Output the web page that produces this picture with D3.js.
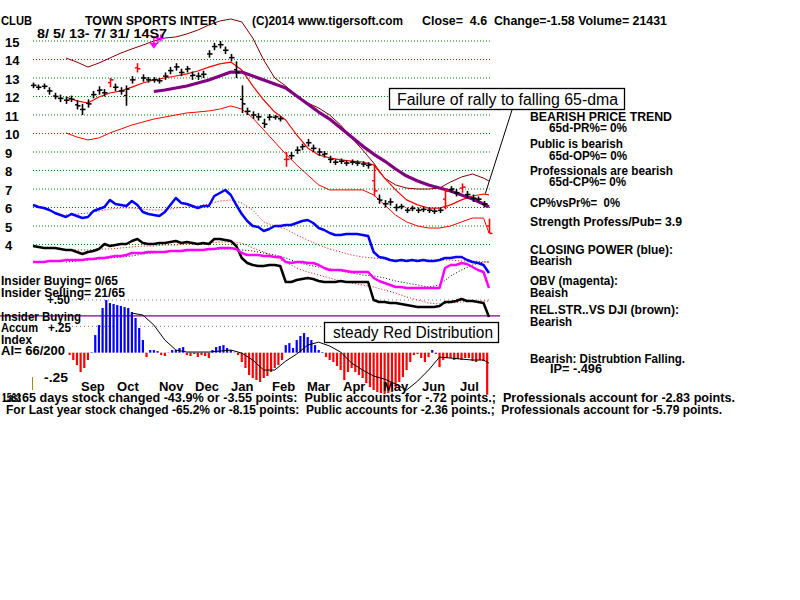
<!DOCTYPE html>
<html><head><meta charset="utf-8">
<script src="https://cdn.jsdelivr.net/npm/d3@7"></script>
<style>
body{margin:0;background:#fff;}
svg{display:block;background:#fff;}
text{font-family:"Liberation Sans",Arial,sans-serif;white-space:pre;}
</style>
</head><body>
<svg id="c" width="800" height="600"></svg>
<script>
// ---------------- DATA ----------------
const priceTicks = [4,5,6,7,8,9,10,11,12,13,14,15];
const monthLabels = ["Sep","Oct","Nov","Dec","Jan","Feb","Mar","Apr","May","Jun","Jul"];
const monthDays = [26.2,45.9,68.8,88.5,108.1,130.5,149.6,169.3,191.1,212.4,233.2];

// price bars every 3 trading days (day = 3*i)
const priceClose = [12.6,12.5,12.55,12.3,12.0,11.9,11.8,11.85,11.5,11.3,
 11.6,12.1,12.35,12.2,12.9,12.5,12.3,12.4,12.9,13.5,
 13.0,12.9,12.9,12.85,13.1,13.4,13.6,13.3,13.5,13.15,
 13.1,13.2,14.3,14.7,14.8,14.5,14.1,13.3,11.6,11.2,
 11.0,10.9,10.5,10.9,10.9,10.8,8.6,8.8,9.1,9.3,
 9.5,9.2,9.0,8.9,8.6,8.45,8.5,8.4,8.45,8.4,
 8.35,8.3,6.9,6.4,6.2,6.3,6.0,6.05,5.85,5.95,
 5.85,5.9,5.85,5.8,5.85,6.9,7.0,6.8,7.1,6.7,
 6.5,6.45,6.2,4.6];
const priceHigh = [12.75,12.65,12.7,12.5,12.2,12.1,12.0,12.05,11.8,11.6,
 11.85,12.3,12.55,12.4,13.0,12.7,12.5,12.6,13.1,13.8,
 13.2,13.05,13.05,13.0,13.3,13.6,13.8,13.5,13.65,13.35,
 13.3,13.4,14.5,14.9,15.0,14.7,14.3,13.9,12.6,11.4,
 11.2,11.1,10.8,11.05,11.0,10.95,9.0,9.0,9.3,9.45,
 9.7,9.4,9.2,9.05,8.8,8.6,8.65,8.55,8.6,8.55,
 8.5,8.45,8.3,6.7,6.4,6.5,6.2,6.2,6.0,6.1,
 6.0,6.05,6.0,5.95,6.0,7.0,7.15,7.0,7.3,6.9,
 6.7,6.6,6.35,5.4];
const priceLow = [12.45,12.35,12.4,12.1,11.85,11.7,11.6,11.7,11.3,11.0,
 11.4,11.9,12.1,12.0,12.5,12.3,12.1,11.5,12.7,13.3,
 12.8,12.75,12.75,12.7,12.9,13.2,13.4,13.1,13.3,12.9,
 12.9,13.0,14.1,14.5,14.6,14.3,13.9,13.0,11.1,11.0,
 10.8,10.7,10.3,10.7,10.75,10.65,8.2,8.6,8.9,9.1,
 9.3,9.0,8.8,8.7,8.4,8.3,8.35,8.25,8.3,8.25,
 8.2,8.1,6.6,6.2,6.0,6.1,5.8,5.9,5.7,5.8,
 5.7,5.75,5.7,5.65,5.7,5.9,6.8,6.6,6.8,6.5,
 6.3,6.3,6.0,4.6];
const redBars = [14,19,46,62,75,78,83];

// smoothed lines every 6 trading days, last point at day 249
const ma21 = [null,null,null,11.97,11.76,11.65,11.97,12.19,12.30,12.51,
 12.73,12.89,13.0,13.11,13.22,13.38,13.59,13.76,13.86,13.43,
 12.57,11.81,11.16,10.73,9.92,9.22,8.84,8.68,8.57,8.51,
 8.46,8.30,7.59,6.95,6.41,6.14,5.97,5.97,6.14,6.41,
 6.62,6.73,6.68];
const bandUpper = [null,null,null,14.08,13.86,13.59,13.81,14.08,14.35,14.57,
 14.78,15.0,15.16,15.22,15.38,15.59,15.86,16.08,16.19,16.03,
 15.16,13.97,13.0,12.57,12.03,11.65,11.38,11.0,10.46,9.76,
 9.11,8.41,7.59,7.22,7.05,7.0,7.0,7.05,7.38,7.65,
 7.81,7.59,7.43];
const bandLower = [null,null,null,10.03,9.81,9.65,9.76,10.03,10.24,10.46,
 10.62,10.78,10.89,11.0,11.11,11.16,11.22,11.32,11.49,11.32,
 10.84,10.19,9.54,8.89,8.30,7.76,7.22,6.95,6.95,6.95,
 6.95,6.68,6.14,5.59,5.22,5.0,4.89,4.89,5.0,5.22,
 5.43,5.43,4.62];
const ma65 = [null,null,null,null,null,null,null,null,null,null,
 null,12.27,12.35,12.46,12.57,12.73,12.89,13.11,13.32,13.32,
 13.11,12.89,12.68,12.46,12.03,11.59,11.16,10.78,10.30,9.81,
 9.32,8.89,8.51,8.08,7.70,7.43,7.22,7.05,6.89,6.68,
 6.46,6.19,6.03];

// indicators (every 3 trading days), arbitrary units
const closingPower = [115,113,112,110,107,105,103,106,104,102,
 103,109,111,113,120,116,115,114,119,115,
 108,106,105,104,108,115,122,117,116,114,
 112,114,114,124,127,130,125,115,106,99,
 94,93,89,91,94,94,95,95,97,99,
 100,97,92,90,87,85,85,86,86,86,
 85,84,68,63,62,60,59,60,59,60,
 59,60,59,59,60,62,62,63,63,60,
 58,57,55,47];
const obv = [58,58,58,59,59,59,60,60,60,60,
 61,61,62,62,63,64,64,65,67,67,
 67,68,68,68,68,69,69,69,70,70,
 70,70,71,71,72,72,72,71,67,65,
 65,65,64,64,63,63,58,57,58,58,
 57,57,55,52,50,50,50,49,48,48,
 48,48,42,39,37,35,33,33,32,32,
 32,32,32,32,32,52,55,55,57,56,
 53,50,48,32];
const relStrength = [74,73,72,72,72,71,70,70,68,66,
 68,69,71,76,74,75,76,76,79,81,
 77,76,76,77,77,78,79,77,78,77,
 76,77,76,81,81,80,79,74,62,57,
 55,54,54,55,55,54,38,38,40,41,
 42,41,39,38,38,38,39,38,38,38,
 38,38,20,18,18,17,17,16,15,14,
 13,13,13,13,14,18,18,19,21,19,
 19,18,17,3];
// moving averages (every 6 trading days)
const cpMa = [null,null,null,105,106,107,109,111,112,112,
 111,110,110,112,113,114,116,119,120,117,
 110,98,94,91,85,80,75,71,68,65,
 63,62,61,60,60,60,60,60,60,59,
 59,58,58];
const obvMa = [null,null,null,58,59,60,61,62,63,64,
 66,67,68,69,69,70,70,71,71,70,
 69,67,65,62,58,55,53,51,49,47,
 45,44,42,39,37,35,33,35,44,50,
 55,58,58];
const rsMa = [null,null,null,70,70,70,71,71,72,73,
 74,74,75,75,76,76,77,78,78,77,
 72,68,63,58,52,48,45,42,39,37,
 35,33,30,27,23,20,17,16,17,18,
 19,19,19];

// Accumulation index, every 2 trading days from day 20
const accumIndex = [-0.023,-0.07,-0.118,-0.184,-0.146,-0.07,0.005,0.167,0.262,0.424,
 0.5,0.471,0.462,0.452,0.443,0.433,0.424,0.386,0.329,0.234,
 0.12,-0.042,0.025,0.025,0.015,-0.023,-0.032,-0.004,0.025,0.025,
 0.044,0.053,-0.023,-0.032,-0.013,-0.042,-0.023,-0.032,-0.051,0.025,
 0.053,0.063,0.072,0.044,0.025,-0.004,-0.023,-0.089,-0.146,-0.213,
 -0.241,-0.26,-0.279,-0.241,-0.222,-0.184,-0.146,-0.118,-0.07,0.072,
 0.091,0.044,0.12,0.158,0.186,0.148,0.12,0.072,0.025,0.006,
 -0.042,-0.07,-0.089,-0.127,-0.165,-0.26,-0.184,-0.146,-0.184,-0.213,
 -0.241,-0.289,-0.327,-0.355,-0.374,-0.384,-0.393,-0.384,-0.374,-0.327,
 -0.279,-0.232,-0.165,-0.089,-0.023,-0.013,-0.051,-0.089,-0.042,0.025,
 -0.013,-0.137,-0.07,-0.051,-0.051,-0.07,-0.061,-0.07,-0.051,-0.051,
 -0.08,-0.089,-0.07,-0.08,-0.4];
const accumMa = [null,null,null,null,null,null,null,null,null,0.376,
 0.357,0.262,0.12,0.025,0.006,0.006,0.006,0.015,0.025,-0.004,
 -0.07,-0.165,-0.165,-0.08,-0.013,0.072,0.1,0.063,0.006,-0.099,
 -0.165,-0.222,-0.251,-0.298,-0.355,-0.27,-0.165,-0.042,-0.051,-0.061,
 -0.07,-0.07,-0.099];
const aiLevels = [0.5,0.25];
const insiderLevel = 0.35;
const sellSignal = {day:66, price:15.25};

// ---------------- CHART ----------------
const svg = d3.select("#c");
const x = d3.scaleLinear().domain([0,249]).range([33,489]);
const yP = d3.scaleLinear().domain([4,15]).range([244.5,41]);
const yI = d3.scaleLinear().domain([0,140]).range([320,180]);
const yA = d3.scaleLinear().domain([-0.25,0.5]).range([379,300]);

const day3 = priceClose.map((_,i)=>i*3);
const day6 = ma21.map((_,i)=> i===ma21.length-1 ? 249 : i*6);
const dayAI = accumIndex.map((_,i)=>20+i*2);

function series(days, vals){ return vals.map((v,i)=>({d:days[i], v})); }
function drawLine(days, vals, yS, color, width, dash){
  const g = d3.line().defined(p=>p.v!==null).x(p=>x(p.d)).y(p=>yS(p.v));
  svg.append("path").datum(series(days,vals)).attr("d",g)
    .attr("fill","none").attr("stroke",color).attr("stroke-width",width)
    .attr("stroke-dasharray",dash||null).attr("stroke-linejoin","round");
}

// price gridlines
svg.append("g").selectAll("line").data(priceTicks).join("line")
  .attr("x1",33).attr("x2",490).attr("y1",d=>yP(d)).attr("y2",d=>yP(d))
  .attr("stroke","#008000").attr("stroke-width",1).attr("stroke-dasharray","1,2");
svg.append("g").selectAll("text").data(priceTicks).join("text")
  .attr("x",5).attr("y",d=>yP(d)+5.5).text(d=>d)
  .attr("font-size",13).attr("font-weight","bold");

// AI dotted levels and insider line
svg.append("g").selectAll("line").data(aiLevels).join("line")
  .attr("x1",72).attr("x2",490).attr("y1",d=>yA(d)).attr("y2",d=>yA(d))
  .attr("stroke","#777").attr("stroke-dasharray","1,3");
svg.append("line").attr("x1",0).attr("x2",500).attr("y1",yA(insiderLevel)).attr("y2",yA(insiderLevel))
  .attr("stroke","#800080").attr("stroke-width",1.3);

// indicator moving averages
drawLine(day6, cpMa, yI, "#ff0000", 1, "1,2");
drawLine(day6, obvMa, yI, "#000000", 1, "1,2");
drawLine(day6, rsMa, yI, "#ff0000", 1, "1,2");
// indicators
drawLine(day3, relStrength, yI, "#000000", 2.5);
drawLine(day3, obv, yI, "#ff00ff", 2.5);
drawLine(day3, closingPower, yI, "#0000ff", 2.5);

// bands
drawLine(day6, bandUpper, yP, "#800000", 1);
drawLine(day6, bandLower, yP, "#ff0000", 1);
drawLine(day6, ma21, yP, "#ff0000", 1.2);
drawLine(day6, ma65, yP, "#800080", 3.2);

// price bars
const bars = svg.append("g");
priceClose.forEach((c,i)=>{
  const col = redBars.includes(i) ? "#ff0000" : "#000000";
  const xx = Math.round(x(day3[i]))+0.5;
  const mid = (priceHigh[i]+priceLow[i])/2;
  bars.append("line").attr("x1",xx).attr("x2",xx)
    .attr("y1",yP(priceHigh[i])).attr("y2",yP(priceLow[i])).attr("stroke",col).attr("stroke-width",1.6);
  bars.append("line").attr("x1",xx-2.5).attr("x2",xx)
    .attr("y1",yP(mid)).attr("y2",yP(mid)).attr("stroke",col).attr("stroke-width",1.4);
  bars.append("line").attr("x1",xx).attr("x2",xx+3)
    .attr("y1",yP(c)).attr("y2",yP(c)).attr("stroke",col).attr("stroke-width",1.6);
});

// accumulation histogram
svg.append("g").selectAll("line").data(series(dayAI, accumIndex)).join("line")
  .attr("x1",p=>x(p.d)).attr("x2",p=>x(p.d))
  .attr("y1",yA(0)).attr("y2",p=>yA(p.v))
  .attr("stroke",p=>p.v>=0?"#0000ff":"#ff0000").attr("stroke-width",2.2);
drawLine(day6, accumMa, yA, "#000000", 1);

// sell signal marker (magenta)
{
  const sx = x(sellSignal.day), sy = yP(sellSignal.price);
  const g = svg.append("g").attr("stroke","#ff00ff").attr("stroke-width",1.5).attr("fill","#ff00ff");
  g.append("line").attr("x1",sx).attr("x2",sx).attr("y1",sy).attr("y2",sy+10);
  g.append("path").attr("d",`M${sx-3},${sy+7}L${sx+3},${sy+7}L${sx},${sy+11}Z`);
  g.append("line").attr("x1",sx+4).attr("x2",sx+4).attr("y1",sy-2).attr("y2",sy+7);
  g.append("line").attr("x1",sx+7).attr("x2",sx+7).attr("y1",sy-2).attr("y2",sy+5);
  g.append("line").attr("x1",sx+2).attr("x2",sx+10).attr("y1",sy+2).attr("y2",sy+2);
}

// olive marker
svg.append("line").attr("x1",32.5).attr("x2",32.5).attr("y1",377).attr("y2",390)
  .attr("stroke","#a09000").attr("stroke-width",1);

// month labels
svg.append("g").selectAll("text").data(monthLabels).join("text")
  .attr("x",(d,i)=>x(monthDays[i])).attr("y",391).text(d=>d)
  .attr("font-size",13).attr("font-weight","bold");

// ---------------- TEXT ----------------
function T(xp, yp, s, size, w, weight){
  const t = svg.append("text").attr("x",xp).attr("y",yp).text(s)
    .attr("font-size",size).attr("font-weight",weight||"bold");
  if (w) t.attr("textLength",w).attr("lengthAdjust","spacingAndGlyphs");
  return t;
}
T(1,25,"CLUB",13,31);
T(85,25,"TOWN SPORTS INTER",13,132);
T(252,25,"(C)2014 www.tigersoft.com",13,151);
T(422,25,"Close=  4.6  Change=-1.58 Volume= 21431",13,245);
T(37,37.5,"8/ 5/ 13- 7/ 31/ 14S7",13,130);

// annotation: failure
svg.append("line").attr("x1",512).attr("y1",110).attr("x2",x(247)).attr("y2",yP(6.75))
  .attr("stroke","#000").attr("stroke-width",1);
svg.append("rect").attr("x",389.5).attr("y",88.5).attr("width",235).attr("height",21)
  .attr("fill","#fff").attr("stroke","#000").attr("stroke-width",1.3);
T(397,105,"Failure of rally to falling 65-dma",16,221,"normal");

// right panel
T(530,121,"BEARISH PRICE TREND",12,142);
T(549,132,"65d-PR%= 0%",12,78);
T(530,148,"Public is bearish",12,93);
T(549,160,"65d-OP%= 0%",12,78);
T(530,175,"Professionals are bearish",12,143);
T(549,186,"65d-CP%= 0%",12,77);
T(530,207,"CP%vsPr%=  0%",12,90);
T(530,226,"Strength Profess/Pub= 3.9",12,152);
T(530,254,"CLOSING POWER (blue):",12,143);
T(530,265,"Bearish",12,42);
T(530,285,"OBV (magenta):",12,88);
T(530,297,"Beaish",12,38);
T(530,314,"REL.STR..VS DJI (brown):",12,149);
T(530,326,"Bearish",12,42);
T(530,363,"Bearish: Distrubtion Falling.",12,155);
T(550,372.5,"IP= -.496",12,52);

// left panel texts
T(1,285,"Insider Buying= 0/65",12,117);
T(1,297,"Insider Selling= 21/65",12,124);
T(47,304,"+.50",12,23);
T(1,321,"Insider Buying",12,80);
T(1,332,"Accum",12,37);
T(48,332,"+.25",12,23);
T(1,344,"Index",12,31);
T(1,355,"AI= 66/200",12,64);
T(44,382,"-.25",12,24);

// steady red distribution box
svg.append("rect").attr("x",324.5).attr("y",322.5).attr("width",174).attr("height",20)
  .attr("fill","#fff").attr("stroke","#000").attr("stroke-width",1.3);
T(333,338,"steady Red Distribution",16,160,"normal");

// bottom lines
T(2,402,"1563",12,19);
T(3,402,"Last",12,18);
T(22,402,"65 days stock changed -43.9% or -3.55 points:  Public accounts for -.72 points.;  Professionals account for -2.83 points.",12,713);
T(6,414,"For Last year stock changed -65.2% or -8.15 points:  Public accounts for -2.36 points.;  Professionals account for -5.79 points.",12,716);
</script>
</body></html>
